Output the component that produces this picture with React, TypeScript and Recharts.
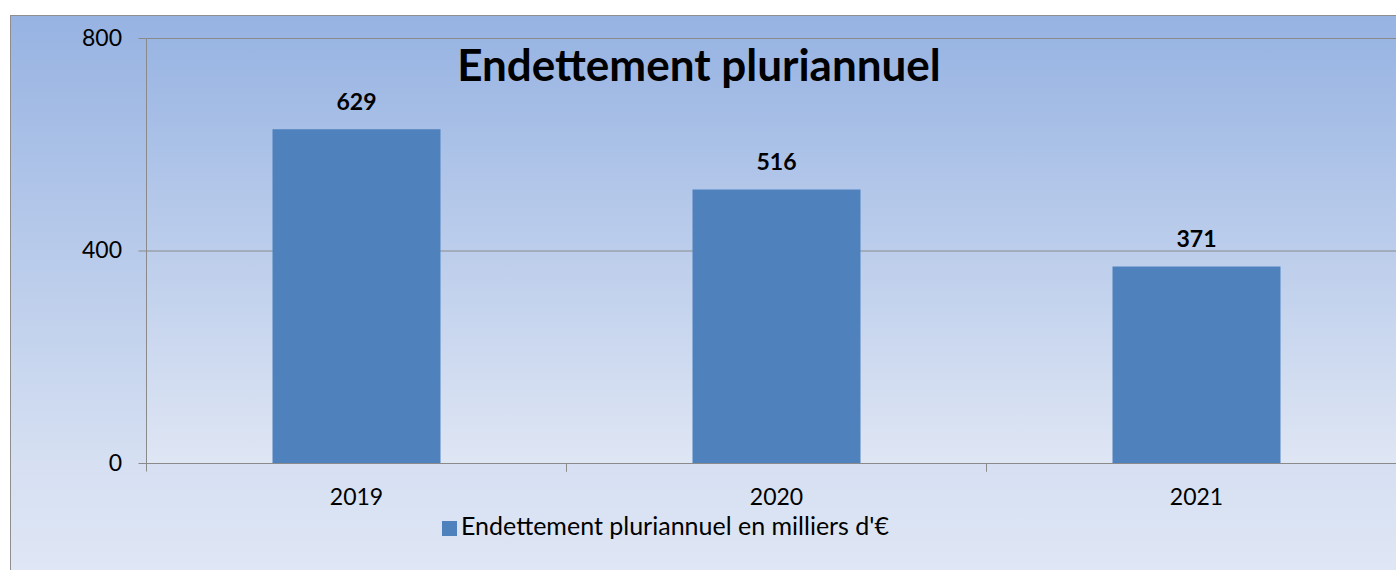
import React from 'react';
import { BarChart, Bar, XAxis, YAxis, CartesianGrid, Legend, LabelList } from 'recharts';

const categories = ['2019', '2020', '2021'];
const values = [629, 516, 371];
const yTicks = [0, 400, 800];
const seriesName = "Endettement pluriannuel en milliers d'€";
const title = 'Endettement pluriannuel';

const data = categories.map((c, i) => ({ year: c, value: values[i] }));

const FONT = 'Lato, "Open Sans", sans-serif';
const AXIS = '#8a8a8a';

const XTick = (props: any) => {
  const { x, y, payload } = props;
  const off = payload && typeof payload.offset === 'number' ? payload.offset : 0;
  const top = y - 17.5 - 8;
  return (
    <g>
      <line x1={x - off} x2={x - off} y1={top} y2={top + 8} stroke={AXIS} strokeWidth={1} />
      <line x1={x + off} x2={x + off} y1={top} y2={top + 8} stroke={AXIS} strokeWidth={1} />
      <text x={x} y={y + 16} textAnchor="middle" fill="#000" fontSize={23} fontFamily={FONT}>
        {payload.value}
      </text>
    </g>
  );
};

export default function App() {
  return (
    <div style={{ position: 'fixed', left: 0, top: 0, width: 1396, height: 570, overflow: 'hidden', background: '#fff' }}>
      <div
        style={{
          position: 'absolute',
          left: 10,
          top: 15,
          width: 1400,
          height: 600,
          border: '1px solid #8e8e8e',
          background: 'linear-gradient(to bottom, #97b3e2 0%, #d6e0f2 75%, #e3e9f6 100%)',
          fontFamily: FONT,
        }}
      >
        <BarChart
          width={1400}
          height={560}
          data={data}
          margin={{ top: 22.5, right: 4.5, bottom: 52.5, left: 0 }}
          barCategoryGap="30%"
        >
          <defs>
            <linearGradient id="plotBg" x1="0" y1="0" x2="0" y2="1">
              <stop offset="0%" stopColor="#99b5e3" />
              <stop offset="100%" stopColor="#dfe6f4" />
            </linearGradient>
          </defs>
          <CartesianGrid vertical={false} stroke={AXIS} fill="url(#plotBg)" />
          <XAxis
            dataKey="year"
            axisLine={{ stroke: AXIS }}
            tickLine={false}
            tickSize={8}
            tickMargin={17.5}
            height={60}
            tick={<XTick />}
            interval={0}
          />
          <YAxis
            domain={[0, 800]}
            ticks={yTicks}
            width={135.5}
            axisLine={{ stroke: AXIS }}
            tickLine={{ stroke: AXIS }}
            tickSize={8}
            tickMargin={16.5}
            tick={{ fill: '#000', fontSize: 23, fontFamily: FONT, dy: -1 }}
          />
          <Legend
            verticalAlign="middle"
            align="center"
            layout="horizontal"
            iconType="square"
            iconSize={15}
            wrapperStyle={{ left: 431, top: 494, width: 'auto', fontSize: 25, fontFamily: FONT }}
            formatter={(v: any) => <span style={{ color: '#000' }}>{v}</span>}
          />
          <Bar dataKey="value" name={seriesName} fill="#4f81bd" isAnimationActive={false}>
            <LabelList
              dataKey="value"
              position="top"
              offset={19}
              fill="#000"
              fontSize={23}
              fontWeight="bold"
              fontFamily={FONT}
            />
          </Bar>
        </BarChart>
      </div>
      <svg style={{ position: 'absolute', left: 0, top: 0, pointerEvents: 'none' }} width={1396} height={570}>
        <text x={699} y={81} textAnchor="middle" fontFamily={FONT} fontWeight="bold" fontSize={44} fill="#000">
          {title}
        </text>
      </svg>
    </div>
  );
}
